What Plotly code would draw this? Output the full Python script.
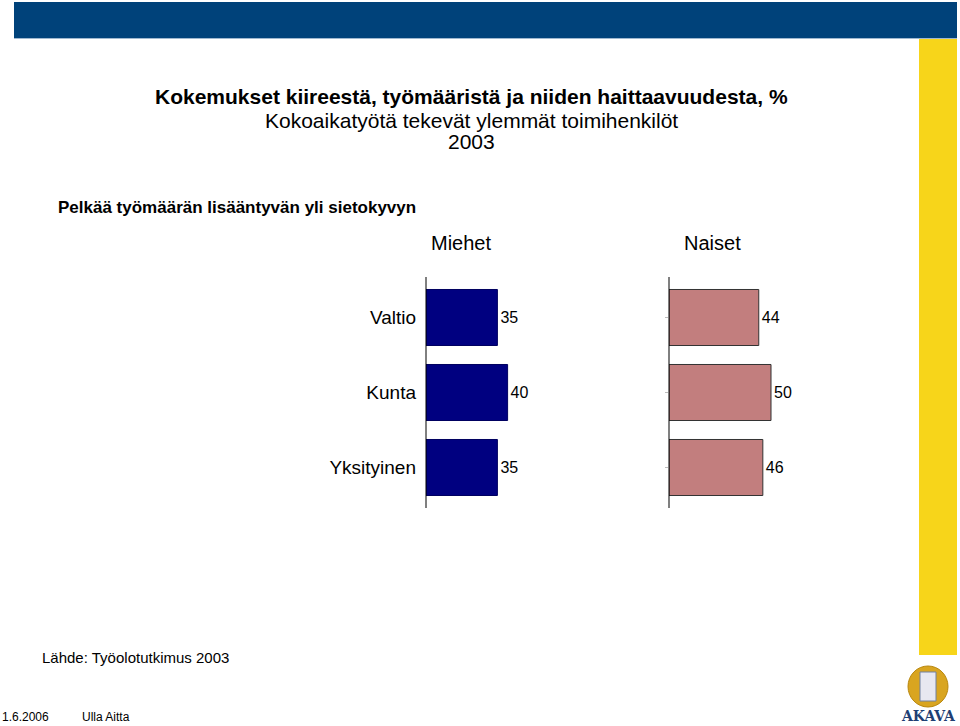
import plotly.graph_objects as go

categories = ["Valtio", "Kunta", "Yksityinen"]
men_values = [35, 40, 35]
women_values = [44, 50, 46]
panel_titles = ["Miehet", "Naiset"]

W, H = 960, 726
FONT = "Liberation Sans, Arial, sans-serif"

def px(x):
    return x / W

def py(y):
    return 1 - y / H

fig = go.Figure()
fig.add_trace(go.Bar(
    y=categories, x=men_values, orientation="h", xaxis="x", yaxis="y",
    marker=dict(color="#000080", line=dict(color="#000060", width=1)),
    width=0.747, text=[str(v) for v in men_values], textposition="outside",
    textfont=dict(family=FONT, size=16, color="#000000"), cliponaxis=False,
    showlegend=False, hoverinfo="x+y",
))
fig.add_trace(go.Bar(
    y=categories, x=women_values, orientation="h", xaxis="x2", yaxis="y2",
    marker=dict(color="#C27E7E", line=dict(color="#333333", width=1)),
    width=0.747, text=[str(v) for v in women_values], textposition="outside",
    textfont=dict(family=FONT, size=16, color="#000000"), cliponaxis=False,
    showlegend=False, hoverinfo="x+y",
))

ydom = [py(505), py(280)]
fig.update_layout(
    width=W, height=H, margin=dict(l=0, r=0, t=0, b=0),
    paper_bgcolor="white", plot_bgcolor="white",
    font=dict(family=FONT, color="#000000"),
    xaxis=dict(domain=[px(426), px(630)], range=[0, 100], visible=False, fixedrange=True),
    xaxis2=dict(domain=[px(669), px(873)], range=[0, 100], visible=False, fixedrange=True),
    yaxis=dict(domain=ydom, anchor="x", autorange="reversed", showline=False,
               showgrid=False, zeroline=False,
               ticks="", ticklabelstandoff=9,
               tickfont=dict(family=FONT, size=19, color="#000000")),
    yaxis2=dict(domain=ydom, anchor="x2", autorange="reversed", showline=False,
                showgrid=False, zeroline=False,
                ticks="outside", ticklen=3, tickcolor="#bbbbbb", showticklabels=False),
    bargap=0.253,
)

shapes = [
    dict(type="rect", xref="paper", yref="paper", x0=px(14), x1=px(957), y0=py(38), y1=py(2),
         fillcolor="#00427A", line=dict(width=0), layer="below"),
    dict(type="line", xref="paper", yref="paper", x0=px(14), x1=px(957), y0=py(38.5), y1=py(38.5),
         line=dict(color="#9FB8D0", width=1)),
    dict(type="rect", xref="paper", yref="paper", x0=px(919), x1=px(957), y0=py(655), y1=py(39),
         fillcolor="#F7D51A", line=dict(width=0), layer="below"),
    dict(type="line", xref="paper", yref="paper", x0=px(426), x1=px(426), y0=py(508), y1=py(277),
         line=dict(color="#000000", width=1)),
    dict(type="line", xref="paper", yref="paper", x0=px(669), x1=px(669), y0=py(508), y1=py(277),
         line=dict(color="#000000", width=1)),
    dict(type="circle", xref="paper", yref="paper", x0=px(908), x1=px(948), y0=py(707), y1=py(666),
         fillcolor="#D9A520", line=dict(color="#B8860B", width=1), layer="below"),
    dict(type="rect", xref="paper", yref="paper", x0=px(920), x1=px(936), y0=py(701), y1=py(672),
         fillcolor="#E8E8F0", line=dict(color="#7080A0", width=1), layer="above"),
]
fig.update_layout(shapes=shapes)

def ann(text, x, y, size, xanchor="center", bold=False, color="#000000", family=FONT):
    t = f"<b>{text}</b>" if bold else text
    return dict(text=t, x=px(x), y=py(y), xref="paper", yref="paper", xanchor=xanchor,
                yanchor="middle", showarrow=False,
                font=dict(family=family, size=size, color=color))

annotations = [
    ann("Kokemukset kiireestä, työmääristä ja niiden haittaavuudesta, %", 471, 97, 21, bold=True),
    ann("Kokoaikatyötä tekevät ylemmät toimihenkilöt", 471, 120, 21),
    ann("2003", 471, 142, 21),
    ann("Pelkää työmäärän lisääntyvän yli sietokyvyn", 56, 207, 17, xanchor="left", bold=True),
    ann(panel_titles[0], 461, 243, 20),
    ann(panel_titles[1], 712, 243, 20),
    ann("Lähde: Työolotutkimus 2003", 40, 657, 15, xanchor="left"),
    ann("1.6.2006", 0, 717, 12, xanchor="left"),
    ann("Ulla Aitta", 80, 717, 12, xanchor="left"),
    ann("AKAVA", 928, 716, 14, bold=True, color="#1F3F74", family="DejaVu Serif, serif"),
]
fig.update_layout(annotations=annotations)

fig.write_html("out.html")
